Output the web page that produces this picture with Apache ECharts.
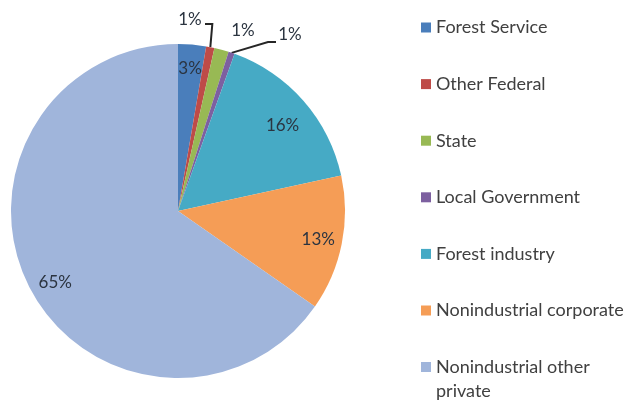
<!DOCTYPE html>
<html>
<head>
<meta charset="utf-8">
<script src="https://cdn.jsdelivr.net/npm/echarts@6/dist/echarts.min.js"></script>
<style>
html,body{margin:0;padding:0;background:#fff;}
#c{width:631px;height:402px;}
</style>
</head>
<body>
<div id="c"></div>
<script>
const categories = ['Forest Service','Other Federal','State','Local Government','Forest industry','Nonindustrial corporate','Nonindustrial other private'];
const values = [2.7, 0.8, 1.4, 0.6, 16.1, 13.1, 65.3];
const colors = ['#4A7EBB','#BE4B48','#98B954','#7D60A0','#46AAC5','#F59D56','#A0B5DB'];

// placement of the small-slice callout labels (layout only)
const callouts = {
  1: {x:190, y:20, line:[[0,24],[205,24]]},
  2: {x:243, y:31, line:null},
  3: {x:290, y:35, line:[[268,42],[276,42]]}
};
// small nudges of inside labels (layout only)
const insideOffsets = {4:[-3,9], 6:[4,5]};

const chart = echarts.init(document.getElementById('c'));
const pct = p => Math.round(p.percent) + '%';
const labelFont = {fontFamily:'Lato', fontSize:17, color:'#2b3440'};
const legendText = {fontFamily:'Lato', fontSize:18, color:'#404040', lineHeight:24};

const mainData = categories.map((n,i)=>({
  name:n, value:values[i], itemStyle:{color:colors[i]},
  label:{show: values[i] < 2},
  labelLine:{show: values[i] < 2}
}));
const overlayData = categories.map((n,i)=>({
  name:n, value:values[i],
  label:{show: values[i] >= 2, offset: insideOffsets[i] || [0,0]}
}));

chart.setOption({
  animation:false,
  legend:[{
    orient:'vertical', left:416, top:10.5,
    itemWidth:10, itemHeight:10, itemGap:32.6,
    icon:'rect',
    data: categories.slice(0,6),
    textStyle:legendText,
    selectedMode:false
  },{
    orient:'vertical', left:416, top:326,
    itemWidth:10, itemHeight:10,
    icon:'rect',
    data: categories.slice(6),
    formatter: ()=> '\nNonindustrial other\nprivate',
    textStyle:legendText,
    selectedMode:false
  }],
  series:[{
    type:'pie', center:[178,211], radius:[0,167], startAngle:90, clockwise:true,
    silent:true,
    data: mainData,
    label:{position:'outside', formatter:pct, ...labelFont},
    labelLine:{length:14, length2:10, lineStyle:{color:'#262626', width:2}},
    labelLayout: function(p){
      const c = callouts[p.dataIndex];
      if(!c) return {};
      const a = p.labelLinePoints ? p.labelLinePoints[0] : [0,0];
      const res = {x:c.x, y:c.y, align:'center', verticalAlign:'middle'};
      if(c.line){
        res.labelLinePoints = [a].concat(c.line.map(pt=>[pt[0]===0 ? a[0]+2 : pt[0], pt[1]]));
      } else {
        res.labelLinePoints = [a, a, a];
      }
      return res;
    }
  },{
    type:'pie', center:[178,211], radius:[112,168], startAngle:90, clockwise:true,
    silent:true,
    itemStyle:{color:'rgba(0,0,0,0)'},
    data: overlayData,
    label:{position:'inside', formatter:pct, ...labelFont},
    labelLine:{show:false}
  }]
});
</script>
</body>
</html>
